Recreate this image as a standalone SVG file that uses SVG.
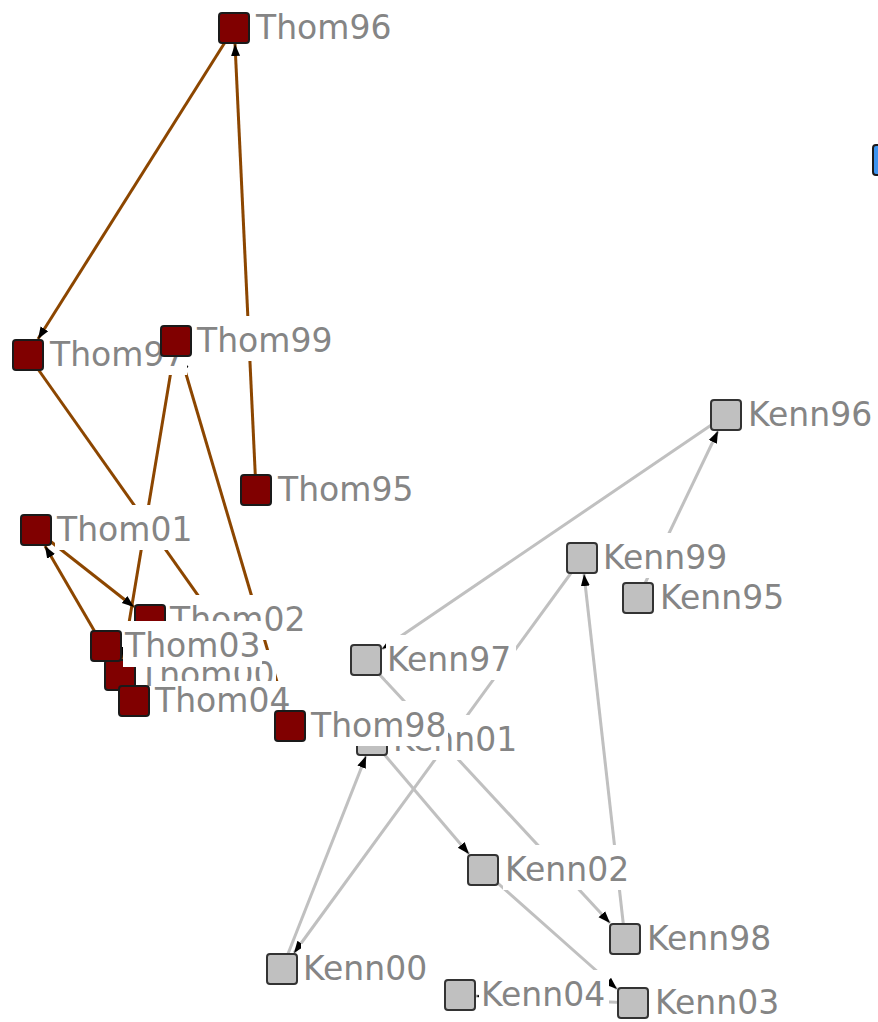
<svg xmlns="http://www.w3.org/2000/svg" width="878" height="1022" viewBox="0 0 878 1022">
<style>
.et{stroke:#8c4600;stroke-width:3;fill:none}
.ek{stroke:#c0c0c0;stroke-width:3;fill:none}
.nt{fill:#800000;stroke:#1a1a1a;stroke-width:2}
.nk{fill:#c0c0c0;stroke:#333333;stroke-width:2}
.nb{fill:#3d94f0;stroke:#1a1a1a;stroke-width:2}
.lb{fill:#ffffff}
.lt{font-family:"DejaVu Sans",sans-serif;font-size:33px;fill:#858585}
</style>
<defs>
<marker id="ah" markerUnits="userSpaceOnUse" markerWidth="13" markerHeight="11" refX="12" refY="5.5" orient="auto">
<path d="M0,1 L12,5.5 L0,10 z" fill="#000"/>
</marker>
</defs>
<rect width="878" height="1022" fill="#ffffff"/>
<g id="connectors">
<line class="et" x1="234" y1="28" x2="38" y2="339" marker-end="url(#ah)"/>
<line class="et" x1="256" y1="490" x2="235" y2="44" marker-end="url(#ah)"/>
<line class="et" x1="290" y1="726" x2="181" y2="357" marker-end="url(#ah)"/>
<line class="et" x1="28" y1="355" x2="279" y2="710" marker-end="url(#ah)"/>
<line class="et" x1="176" y1="341" x2="123" y2="659" marker-end="url(#ah)"/>
<line class="et" x1="120" y1="675" x2="45" y2="546" marker-end="url(#ah)"/>
<line class="et" x1="36" y1="530" x2="134" y2="607" marker-end="url(#ah)"/>
<line class="ek" x1="726" y1="415" x2="382" y2="649" marker-end="url(#ah)"/>
<line class="ek" x1="638" y1="598" x2="718" y2="431" marker-end="url(#ah)"/>
<line class="ek" x1="582" y1="558" x2="294" y2="953" marker-end="url(#ah)"/>
<line class="ek" x1="282" y1="969" x2="366" y2="756" marker-end="url(#ah)"/>
<line class="ek" x1="372" y1="740" x2="469" y2="854" marker-end="url(#ah)"/>
<line class="ek" x1="366" y1="660" x2="610" y2="923" marker-end="url(#ah)"/>
<line class="ek" x1="625" y1="939" x2="584" y2="574" marker-end="url(#ah)"/>
<line class="ek" x1="483" y1="870" x2="617" y2="989" marker-end="url(#ah)"/>
<line class="ek" x1="633" y1="1003" x2="476" y2="996" marker-end="url(#ah)"/>
</g>
<g id="Kenn96"><rect class="nk" x="711" y="400" width="30" height="30" rx="3"/><rect class="lb" x="746" y="390" width="130" height="45"/><text class="lt" x="748" y="426">Kenn96</text></g>
<g id="Kenn99"><rect class="nk" x="567" y="543" width="30" height="30" rx="3"/><rect class="lb" x="601" y="533" width="130" height="45"/><text class="lt" x="603" y="569">Kenn99</text></g>
<g id="Kenn95"><rect class="nk" x="623" y="583" width="30" height="30" rx="3"/><rect class="lb" x="658" y="573" width="130" height="45"/><text class="lt" x="660" y="609">Kenn95</text></g>
<g id="Kenn97"><rect class="nk" x="351" y="645" width="30" height="30" rx="3"/><rect class="lb" x="386" y="635" width="130" height="45"/><text class="lt" x="387" y="671">Kenn97</text></g>
<g id="Kenn01"><rect class="nk" x="357" y="725" width="30" height="30" rx="3"/><rect class="lb" x="391" y="715" width="130" height="45"/><text class="lt" x="393" y="751">Kenn01</text></g>
<g id="Kenn02"><rect class="nk" x="468" y="855" width="30" height="30" rx="3"/><rect class="lb" x="503" y="845" width="130" height="45"/><text class="lt" x="505" y="881">Kenn02</text></g>
<g id="Kenn98"><rect class="nk" x="610" y="924" width="30" height="30" rx="3"/><rect class="lb" x="645" y="914" width="130" height="45"/><text class="lt" x="647" y="950">Kenn98</text></g>
<g id="Kenn00"><rect class="nk" x="267" y="954" width="30" height="30" rx="3"/><rect class="lb" x="301" y="944" width="130" height="45"/><text class="lt" x="303" y="980">Kenn00</text></g>
<g id="Kenn04"><rect class="nk" x="445" y="980" width="30" height="30" rx="3"/><rect class="lb" x="479" y="970" width="130" height="45"/><text class="lt" x="481" y="1006">Kenn04</text></g>
<g id="Kenn03"><rect class="nk" x="618" y="988" width="30" height="30" rx="3"/><rect class="lb" x="653" y="978" width="130" height="45"/><text class="lt" x="655" y="1014">Kenn03</text></g>
<g id="BlueNode"><rect class="nb" x="873" y="145" width="30" height="30" rx="3"/></g>
<g id="Thom95"><rect class="nt" x="241" y="475" width="30" height="30" rx="3"/><rect class="lb" x="276" y="465" width="139" height="45"/><text class="lt" x="278" y="501">Thom95</text></g>
<g id="Thom96"><rect class="nt" x="219" y="13" width="30" height="30" rx="3"/><rect class="lb" x="254" y="3" width="139" height="45"/><text class="lt" x="256" y="39">Thom96</text></g>
<g id="Thom97"><rect class="nt" x="13" y="340" width="30" height="30" rx="3"/><rect class="lb" x="48" y="330" width="139" height="45"/><text class="lt" x="50" y="366">Thom97</text></g>
<g id="Thom99"><rect class="nt" x="161" y="326" width="30" height="30" rx="3"/><rect class="lb" x="195" y="316" width="139" height="45"/><text class="lt" x="197" y="352">Thom99</text></g>
<g id="Thom00"><rect class="nt" x="105" y="660" width="30" height="30" rx="3"/><rect class="lb" x="137" y="650" width="139" height="45"/><text class="lt" x="139" y="686">Thom00</text></g>
<g id="Thom01"><rect class="nt" x="21" y="515" width="30" height="30" rx="3"/><rect class="lb" x="55" y="505" width="139" height="45"/><text class="lt" x="57" y="541">Thom01</text></g>
<g id="Thom02"><rect class="nt" x="135" y="605" width="30" height="30" rx="3"/><rect class="lb" x="168" y="595" width="139" height="45"/><text class="lt" x="170" y="631">Thom02</text></g>
<g id="Thom03"><rect class="nt" x="91" y="631" width="30" height="30" rx="3"/><rect class="lb" x="123" y="621" width="139" height="46"/><text class="lt" x="125" y="657">Thom03</text></g>
<g id="Thom04"><rect class="nt" x="119" y="686" width="30" height="30" rx="3"/><rect class="lb" x="153" y="681" width="139" height="40"/><text class="lt" x="155" y="712">Thom04</text></g>
<g id="Thom98"><rect class="nt" x="275" y="711" width="30" height="30" rx="3"/><rect class="lb" x="309" y="701" width="139" height="45"/><text class="lt" x="311" y="737">Thom98</text></g>
</svg>
